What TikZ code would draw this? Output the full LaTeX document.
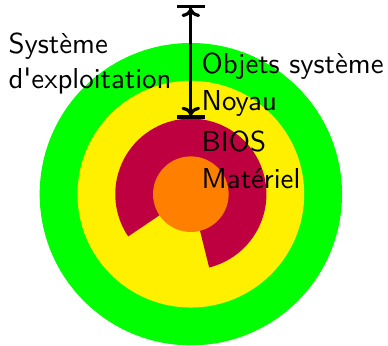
\documentclass[tikz,border=0pt]{standalone}
\usepackage{fontspec}
\newfontfamily\lmsansten{lmsans10-regular.otf}
\usetikzlibrary{arrows.meta}
\definecolor{ringgreen}{RGB}{0,255,0}
\definecolor{ringyellow}{RGB}{255,240,0}
\definecolor{ringred}{RGB}{191,0,64}
\definecolor{ringorange}{RGB}{255,128,0}
\tikzset{
  lbl/.style={font=\lmsansten\fontsize{21.7}{26.3}\selectfont, inner sep=0pt},
  dim/.style={line width=2.4pt, {Bar[width=21pt]To[length=6.5pt,width=14pt]}-{To[length=6.5pt,width=14pt]Bar[width=21pt]}}
}
\begin{document}
\begin{tikzpicture}
\useasboundingbox (-5.05,-4.016) rectangle (5.217,5.138);
\fill[ringgreen] (0,0) circle[radius=4];
\fill[ringyellow] (0,0) circle[radius=3];
\fill[ringred] (0,0) -- (-76:2) arc[start angle=-76, end angle=214, radius=2] -- cycle;
\fill[ringorange] (0,0) circle[radius=1];
\coordinate (bot) at (0,2);
\coordinate (top) at (0,5);
\draw[dim] (bot) -- (top);
\node[lbl, anchor=base west] (os) at (-4.83,3.728) {\begin{tabular}[t]{@{}l@{}}Système\\d'exploitation\end{tabular}};
\node[lbl, anchor=west] (obj) at (0.28,3.4) {Objets système};
\node[lbl, anchor=west] (noy) at (0.28,2.4) {Noyau};
\node[lbl, anchor=west] (bios) at (0.28,1.4) {BIOS};
\node[lbl, anchor=west] (mat) at (0.28,0.4) {Matériel};
\end{tikzpicture}
\end{document}
